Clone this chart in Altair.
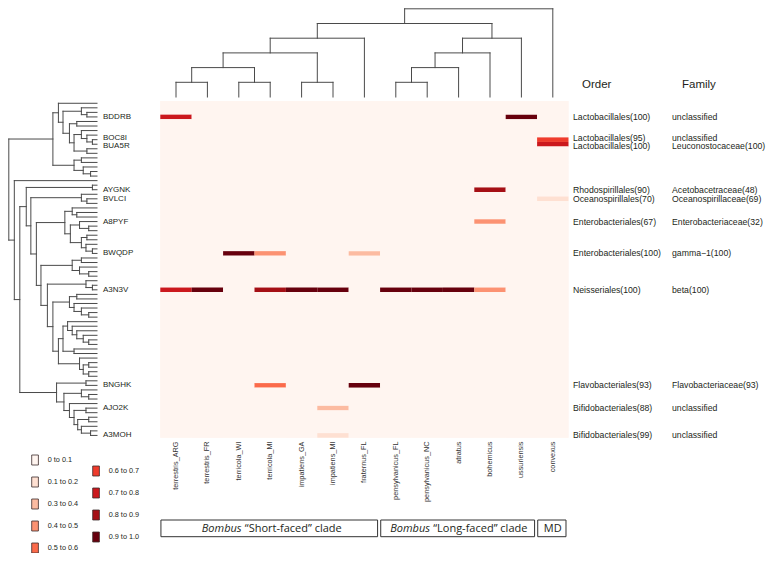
import altair as alt
import pandas as pd

# ---------------- data ----------------
columns = ["terrestris_ARG", "terrestris_FR", "terricola_WI", "terricola_MI",
           "impatiens_GA", "impatiens_MI", "fraternus_FL", "pensylvanicus_FL",
           "pensylvanicus_NC", "atratus", "bohemicus", "ussuriensis", "convexus"]
n_otus = 74

otu_rows = [3, 8, 9, 19, 21, 26, 33, 41, 62, 67, 73]
otu_names = ["BDDRB", "BOC8I", "BUA5R", "AYGNK", "BVLCI", "A8PYF",
             "BWQDP", "A3N3V", "BNGHK", "AJO2K", "A3MOH"]
orders = ["Lactobacillales(100)", "Lactobacillales(95)", "Lactobacillales(100)",
          "Rhodospirillales(90)", "Oceanospirillales(70)", "Enterobacteriales(67)",
          "Enterobacteriales(100)", "Neisseriales(100)", "Flavobacteriales(93)",
          "Bifidobacteriales(88)", "Bifidobacteriales(99)"]
families = ["unclassified", "unclassified", "Leuconostocaceae(100)",
            "Acetobacetraceae(48)", "Oceanospirillaceae(69)", "Enterobacteriaceae(32)",
            "gamma\u22121(100)", "beta(100)", "Flavobacteriaceae(93)",
            "unclassified", "unclassified"]
# small vertical nudge (in rows) used to separate the two adjacent labels
label_nudge = [0.0, -0.45, 0.4, 0.0, 0.0, 0.0, 0.0, 0.0, 0.0, 0.0, 0.0]

#        ARG   FR    WI    tMI   GA    iMI   fFL   pFL   pNC   atr   boh   uss   conv
BDDRB = [0.75, 0.0,  0.0,  0.0,  0.0,  0.0,  0.0,  0.0,  0.0,  0.0,  0.0,  0.95, 0.0]
BOC8I = [0.0,  0.0,  0.0,  0.0,  0.0,  0.0,  0.0,  0.0,  0.0,  0.0,  0.0,  0.0,  0.65]
BUA5R = [0.0,  0.0,  0.0,  0.0,  0.0,  0.0,  0.0,  0.0,  0.0,  0.0,  0.0,  0.0,  0.75]
AYGNK = [0.0,  0.0,  0.0,  0.0,  0.0,  0.0,  0.0,  0.0,  0.0,  0.0,  0.85, 0.0,  0.0]
BVLCI = [0.0,  0.0,  0.0,  0.0,  0.0,  0.0,  0.0,  0.0,  0.0,  0.0,  0.0,  0.0,  0.15]
A8PYF = [0.0,  0.0,  0.0,  0.0,  0.0,  0.0,  0.0,  0.0,  0.0,  0.0,  0.45, 0.0,  0.0]
BWQDP = [0.0,  0.0,  0.95, 0.45, 0.0,  0.0,  0.35, 0.0,  0.0,  0.0,  0.0,  0.0,  0.0]
A3N3V = [0.75, 0.95, 0.0,  0.85, 0.95, 0.95, 0.0,  0.95, 0.95, 0.95, 0.45, 0.0,  0.0]
BNGHK = [0.0,  0.0,  0.0,  0.55, 0.0,  0.0,  0.95, 0.0,  0.0,  0.0,  0.0,  0.0,  0.0]
AJO2K = [0.0,  0.0,  0.0,  0.0,  0.0,  0.35, 0.0,  0.0,  0.0,  0.0,  0.0,  0.0,  0.0]
A3MOH = [0.0,  0.0,  0.0,  0.0,  0.0,  0.15, 0.0,  0.0,  0.0,  0.0,  0.0,  0.0,  0.0]
abundance_rows = [BDDRB, BOC8I, BUA5R, AYGNK, BVLCI, A8PYF, BWQDP, A3N3V, BNGHK, AJO2K, A3MOH]

# row dendrogram: (height, child, child); leaves are row indices (top to bottom)
A1 = (42, 0, (37, (17, 1, (11, 2, 3)),
              (30, (22, 4, 5), (25, (17, 6, (11, 7, (5, 8, 9))), (11, 10, 11)))))
A2 = (25, (17, 12, 13), (15, 14, (7, 15, 16)))
D2a = (17, 20, (11, 21, 22))
D2b1 = (35, (27, 23, (22, 24, 25)),
        (29, (19, 26, (9, 27, 28)), (17, (11, 29, 30), (12, 31, (5, 32, 33)))))
D2b2a = (27, (17, 34, 35), (19, 36, (9, 37, 38)))
D3 = (12, 39, (5, 40, 41))
D4a = (30, (22, 42, 43), (25, 44, (17, 45, (9, 46, 47))))
D4b = (42, (37, (32, 48, (27, 49, (22, 50, (15, 51, (9, 52, 53))))), (25, 54, 55)),
       (19, 56, (15, (9, 57, 58), (9, 59, 60))))
E = (44, (12, 61, 62),
     (36, (17, 63, (9, 64, 65)),
      (30, 66, (25, (12, 67, 68), (21, (9, 69, 70), (17, 71, (7, 72, 73)))))))
D = (77, (5, 18, 19), (72, D2a, (66, D2b1, (61, D2b2a, (54, D3, (48, D4a, D4b))))))
row_tree = (96, (48, A1, A2), (90, 17, (84, D, E)))

# column dendrogram: (level, child, child); leaves are column indices
short_faced = (4, (3, (2, (1, 0, 1), (1, 2, 3)), (1, 4, 5)), 6)
long_faced = (4, (3, (2, (1, 7, 8), 9), 10), 11)
col_tree = (6, (5, short_faced, long_faced), 12)

legend_labels = ["0 to 0.1", "0.1 to 0.2", "0.3 to 0.4", "0.4 to 0.5", "0.5 to 0.6",
                 "0.6 to 0.7", "0.7 to 0.8", "0.8 to 0.9", "0.9 to 1.0"]
legend_values = [0.05, 0.15, 0.35, 0.45, 0.55, 0.65, 0.75, 0.85, 0.95]
reds9 = ["#FFF5F0", "#FEE0D2", "#FCBBA1", "#FC9272", "#FB6A4A",
         "#EF3B2C", "#CB181D", "#A50F15", "#67000D"]
bins = [0.1, 0.3, 0.4, 0.5, 0.6, 0.7, 0.8, 0.9]

clade_prefix = ["Bombus", "Bombus", ""]
clade_names = ["\u201cShort-faced\u201d clade", "\u201cLong-faced\u201d clade", "MD"]
clade_first = [0, 7, 12]
clade_last = [6, 11, 12]

# ---------------- layout ----------------
W, H = 758, 545
PX0, CW = 160.3, 31.4     # heatmap left edge / column width (page px)
PY0, RH = 101.0, 4.55     # heatmap top edge / row height (page px)
FONT = "Liberation Sans"
TXT = "#231f20"
LINE = "#4a4a4a"


def ux(px):
    return (px - PX0) / CW


def vy(py):
    return (py - PY0) / RH


xs = alt.Scale(domain=[ux(8), ux(8 + W)], nice=False, zero=False)
ys = alt.Scale(domain=[vy(8), vy(8 + H)], nice=False, zero=False, reverse=True)
cs = alt.Scale(type="threshold", domain=bins, range=reds9)


def X(f):
    return alt.X(f, type="quantitative", scale=xs, axis=None)


def Y(f):
    return alt.Y(f, type="quantitative", scale=ys, axis=None)


# heatmap cells
abund = dict(zip(otu_rows, abundance_rows))
cells = []
for r in range(n_otus):
    vals = abund.get(r)
    for j in range(len(columns)):
        cells.append(dict(x0=j, x1=j + 1, y0=r, y1=r + 1,
                          value=vals[j] if vals else 0.0))
cells_df = pd.DataFrame(cells)
bg_df = pd.DataFrame([dict(x0=0, x1=len(columns), y0=0, y1=n_otus, value=0.0)])

bg = alt.Chart(bg_df).mark_rect().encode(
    x=X("x0"), x2="x1", y=Y("y0"), y2="y1",
    color=alt.Color("value:Q", scale=cs, legend=None))
heat = alt.Chart(cells_df).mark_rect().encode(
    x=X("x0"), x2="x1", y=Y("y0"), y2="y1",
    color=alt.Color("value:Q", scale=cs, legend=None))


# dendrogram segments
def walk(node, segs, leafpos):
    if isinstance(node, int):
        return leafpos(node), 0.0
    h, a, b = node
    pa, ha = walk(a, segs, leafpos)
    pb, hb = walk(b, segs, leafpos)
    segs.append((pa, pa, h, ha))
    segs.append((pb, pb, h, hb))
    segs.append((pa, pb, h, h))
    return (pa + pb) / 2, h


LEAF_X, ROOT_X = 97.0, 8.8
rsegs = []
walk(row_tree, rsegs, lambda i: i + 0.5)
hr = row_tree[0]
row_seg_df = pd.DataFrame([
    dict(y=p1, y2=p2,
         x=ux(LEAF_X - h1 * (LEAF_X - ROOT_X) / hr),
         x2=ux(LEAF_X - h2 * (LEAF_X - ROOT_X) / hr))
    for p1, p2, h1, h2 in rsegs])

LEAF_Y, ROOT_Y = 97.0, 8.8
csegs = []
walk(col_tree, csegs, lambda j: j + 0.5)
hc = col_tree[0]
col_seg_df = pd.DataFrame([
    dict(x=p1, x2=p2,
         y=vy(LEAF_Y - h1 * (LEAF_Y - ROOT_Y) / hc),
         y2=vy(LEAF_Y - h2 * (LEAF_Y - ROOT_Y) / hc))
    for p1, p2, h1, h2 in csegs])

rdend = alt.Chart(row_seg_df).mark_rule(color=LINE, strokeWidth=1, strokeCap="square").encode(
    x=X("x"), x2="x2", y=Y("y"), y2="y2")
cdend = alt.Chart(col_seg_df).mark_rule(color=LINE, strokeWidth=1, strokeCap="square").encode(
    x=X("x"), x2="x2", y=Y("y"), y2="y2")

# row labels (left) and taxonomy (right)
lab_df = pd.DataFrame(dict(
    name=otu_names, order=orders, family=families,
    y=[r + 0.5 + n for r, n in zip(otu_rows, label_nudge)],
    xl=ux(103), xo=ux(573), xf=ux(672)))

left_txt = alt.Chart(lab_df).mark_text(align="left", baseline="middle", font=FONT,
                                       fontSize=8, color=TXT).encode(
    x=X("xl"), y=Y("y"), text="name:N")
order_txt = alt.Chart(lab_df).mark_text(align="left", baseline="middle", font=FONT,
                                        fontSize=8.7, color=TXT).encode(
    x=X("xo"), y=Y("y"), text="order:N")
fam_txt = alt.Chart(lab_df).mark_text(align="left", baseline="middle", font=FONT,
                                      fontSize=8.7, color=TXT).encode(
    x=X("xf"), y=Y("y"), text="family:N")

head_df = pd.DataFrame(dict(t=["Order", "Family"], x=[ux(582), ux(682)], y=[vy(84.5)] * 2))
head_txt = alt.Chart(head_df).mark_text(align="left", baseline="middle", font=FONT,
                                        fontSize=11.5, color=TXT).encode(
    x=X("x"), y=Y("y"), text="t:N")

# column labels
col_df = pd.DataFrame(dict(t=columns, x=[j + 0.5 for j in range(len(columns))],
                           y=[vy(441.5)] * len(columns)))
col_txt = alt.Chart(col_df).mark_text(angle=270, align="right", baseline="middle",
                                      font=FONT, fontSize=7.3, color="#333333").encode(
    x=X("x"), y=Y("y"), text="t:N")

# clade boxes
box_df = pd.DataFrame(dict(
    x=[f + 0.02 for f in clade_first], x2=[l + 1 - 0.08 for l in clade_last],
    y=[vy(520)] * 3, y2=[vy(536.7)] * 3))
boxes = alt.Chart(box_df).mark_rect(fill="white", stroke="#333333", strokeWidth=1).encode(
    x=X("x"), x2="x2", y=Y("y"), y2="y2")

centers = [(f + l + 1) / 2 for f, l in zip(clade_first, clade_last)]
shift = 27.0 / CW
gap = 1.6 / CW
pre_df = pd.DataFrame([dict(t=p, x=c - shift - gap, y=vy(528.5))
                       for p, c in zip(clade_prefix, centers) if p])
nm_df = pd.DataFrame([dict(t=n, x=c - shift + gap, y=vy(528.5))
                      for p, n, c in zip(clade_prefix, clade_names, centers) if p])
solo_df = pd.DataFrame([dict(t=n, x=c, y=vy(528.5))
                        for p, n, c in zip(clade_prefix, clade_names, centers) if not p])
CFONT = "Open Sans"
pre_txt = alt.Chart(pre_df).mark_text(align="right", baseline="middle", font=CFONT,
                                      fontSize=11, fontStyle="italic", color=TXT).encode(
    x=X("x"), y=Y("y"), text="t:N")
nm_txt = alt.Chart(nm_df).mark_text(align="left", baseline="middle", font=CFONT,
                                    fontSize=11, color=TXT).encode(
    x=X("x"), y=Y("y"), text="t:N")
solo_txt = alt.Chart(solo_df).mark_text(align="center", baseline="middle", font=CFONT,
                                        fontSize=11, color=TXT).encode(
    x=X("x"), y=Y("y"), text="t:N")

# legend (two columns, second offset by half a step)
leg = []
for i, (lab, val) in enumerate(zip(legend_labels, legend_values)):
    col = 0 if i < 5 else 1
    row = i if i < 5 else (i - 5) + 0.5
    left = 31.7 + col * 61.0
    top = 455.0 + row * 22.0
    leg.append(dict(label=lab, value=val, x=ux(left), x2=ux(left + 6.7),
                    y=vy(top), y2=vy(top + 10.0), tx=ux(left + 16.0),
                    ty=vy(top + 5.0)))
leg_df = pd.DataFrame(leg)
leg_sq = alt.Chart(leg_df).mark_rect(stroke="#3b2b2b", strokeWidth=0.8).encode(
    x=X("x"), x2="x2", y=Y("y"), y2="y2",
    color=alt.Color("value:Q", scale=cs, legend=None))
leg_txt = alt.Chart(leg_df).mark_text(align="left", baseline="middle", font=FONT,
                                      fontSize=7.3, color=TXT).encode(
    x=X("tx"), y=Y("ty"), text="label:N")

chart = alt.layer(
    bg, heat, rdend, cdend, left_txt, order_txt, fam_txt, head_txt, col_txt,
    boxes, pre_txt, nm_txt, solo_txt, leg_sq, leg_txt
).properties(
    width=W, height=H, padding=0,
    autosize=alt.AutoSizeParams(type="none")
).configure(background="white").configure_view(stroke=None)

chart.save("out.html", embed_options={"renderer": "svg", "actions": False})
